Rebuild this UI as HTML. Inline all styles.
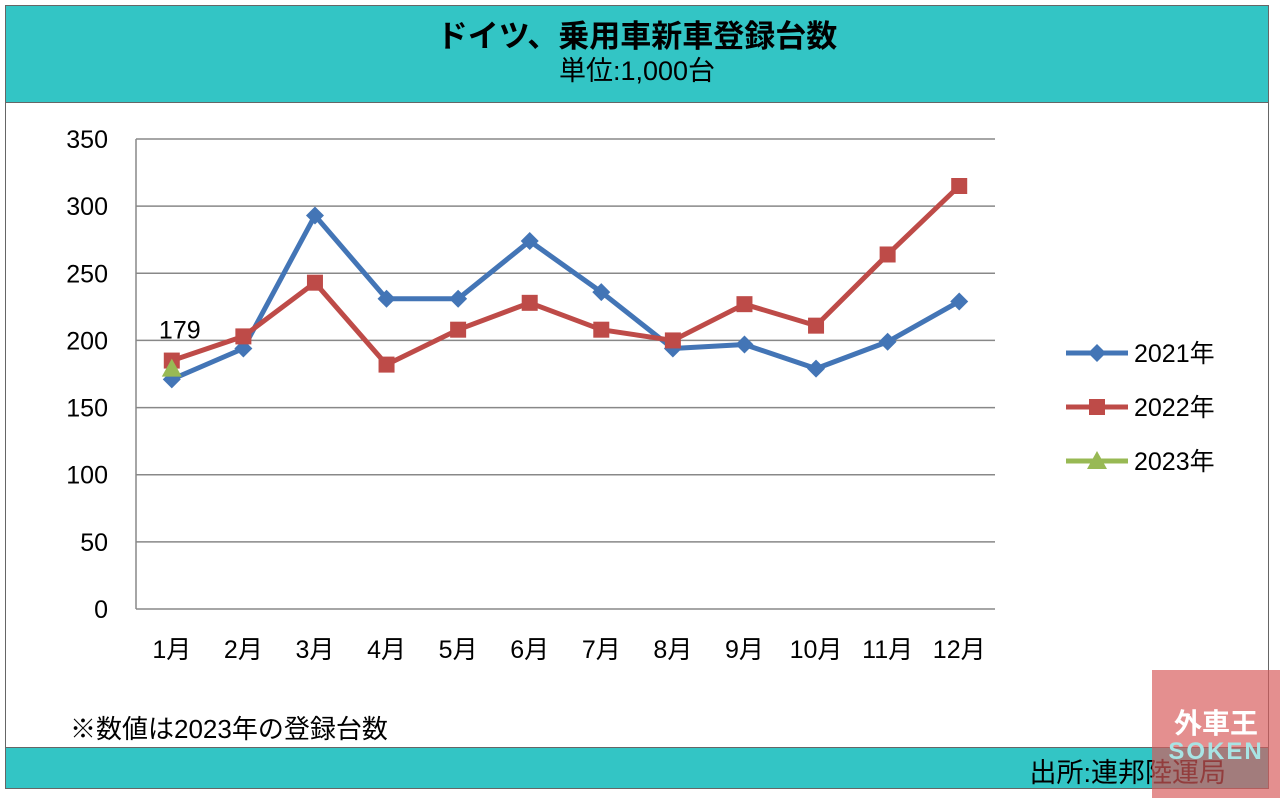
<!DOCTYPE html>
<html><head><meta charset="utf-8">
<style>
body{margin:0;width:1280px;height:798px;background:#fff;overflow:hidden;font-family:"Liberation Sans","Noto Sans CJK JP",sans-serif;}
#frame{position:absolute;left:5px;top:5px;width:1264px;height:783px;border:1.5px solid #666;box-sizing:border-box;}
#hdr{position:absolute;left:5px;top:5px;width:1264px;height:98px;background:#33C5C5;border:1.5px solid #666;box-sizing:border-box;text-align:center;}
#ftr{position:absolute;left:5px;top:747px;width:1264px;height:42px;background:#33C5C5;border:1.5px solid #666;box-sizing:border-box;}
#wm{position:absolute;left:1152px;top:670px;width:128px;height:128px;background:rgba(215,90,90,0.68);}
</style></head><body>
<div id="frame"></div>
<div id="hdr">
<div style="font-size:31px;font-weight:bold;margin-top:13px;line-height:36px;">ドイツ、乗用車新車登録台数</div>
<div style="font-size:27px;line-height:32px;">単位:1,000台</div>
</div>
<div id="ftr">
<div style="position:absolute;right:42px;top:3px;font-size:27px;">出所:連邦陸運局</div>
</div>
<div style="position:absolute;left:70px;top:709px;font-size:26px;">※数値は2023年の登録台数</div>
<svg id="chart" width="1280" height="798" style="position:absolute;left:0;top:0"></svg>
<div id="wm">
<div style="position:absolute;left:0;width:128px;top:32px;text-align:center;color:#fff;font-size:28px;font-weight:bold;">外車王</div>
<div style="position:absolute;left:0;width:128px;top:68px;text-align:center;color:#a8e4e4;font-size:24px;font-weight:bold;letter-spacing:2px;">SOKEN</div>
</div>
<script>
const months=["1月","2月","3月","4月","5月","6月","7月","8月","9月","10月","11月","12月"];
const yTicks=[0,50,100,150,200,250,300,350];
const s2021=[171,194,293,231,231,274,236,194,197,179,199,229];
const s2022=[185,203,243,182,208,228,208,200,227,211,264,315];
const s2023=[179];
const NS="http://www.w3.org/2000/svg";
const svg=document.getElementById('chart');
const x0=136,x1=995,yTop=139,yBot=609;
const xs=i=>x0+(x1-x0)/12*(i+0.5);
const ys=v=>yBot-(v/350)*(yBot-yTop);
function mk(t,a){const e=document.createElementNS(NS,t);for(const k in a)e.setAttribute(k,a[k]);svg.appendChild(e);return e;}
yTicks.forEach(v=>{
 const l=mk('line',{x1:x0,x2:x1,y1:ys(v),y2:ys(v),stroke:'#888','stroke-width':1.5});
 
 
 const t=mk('text',{x:108,y:ys(v)+9,'text-anchor':'end','font-size':25,'font-family':'Liberation Sans, sans-serif'});
 t.textContent=v;
 
 
});
const ax=mk('line',{x1:x0,x2:x0,y1:yTop,y2:yBot,stroke:'#888','stroke-width':1.5});


months.forEach((m,i)=>{
 const t=mk('text',{x:xs(i),y:658,'text-anchor':'middle','font-size':25,'font-family':'Liberation Sans, Noto Sans CJK JP, sans-serif'});
 t.textContent=m;
 
 
});
function marker(type,cx,cy,col){
 let e;
 if(type==='d')e=mk('polygon',{points:`${cx},${cy-9} ${cx+9},${cy} ${cx},${cy+9} ${cx-9},${cy}`,fill:col});
 else if(type==='s')e=mk('rect',{x:cx-8,y:cy-8,width:16,height:16,fill:col});
 else e=mk('polygon',{points:`${cx},${cy-10} ${cx+10},${cy+8} ${cx-10},${cy+8}`,fill:col});
 return e;
}
function series(data,col,type,name){
 const p=mk('polyline',{points:data.map((v,i)=>xs(i)+','+ys(v)).join(' '),fill:'none',stroke:col,'stroke-width':5,'stroke-linejoin':'round'});
 
 
 data.forEach((v,i)=>{const m=marker(type,xs(i),ys(v),col);
  
  });
}
series(s2021,'#4375B6','d','series-2021');
series(s2022,'#BE4B48','s','series-2022');
series(s2023,'#98B954','t','series-2023');
const lbl=mk('text',{x:xs(0)+8,y:ys(s2023[0])-30,'text-anchor':'middle','font-size':25,'font-family':'Liberation Sans, sans-serif'});
lbl.textContent=s2023[0];


[['2021年','#4375B6','d'],['2022年','#BE4B48','s'],['2023年','#98B954','t']].forEach((g,i)=>{
 const y=353+i*54;
 const l=mk('line',{x1:1066,x2:1128,y1:y,y2:y,stroke:g[1],'stroke-width':5});
 
 
 const m=marker(g[2],1097,y,g[1]);
 
 
 const t=mk('text',{x:1134,y:y+9,'font-size':25,'font-family':'Liberation Sans, Noto Sans CJK JP, sans-serif'});
 t.textContent=g[0];
 
 
});
</script>
</body></html>
